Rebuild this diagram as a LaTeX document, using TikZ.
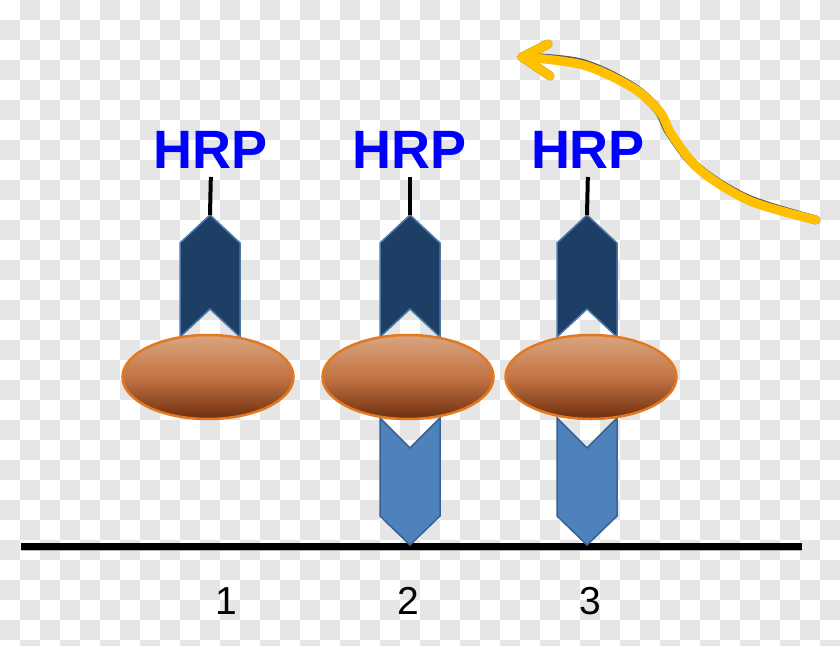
\documentclass[tikz,border=0pt]{standalone}
\usepackage{fontspec}
\setmainfont{Liberation Sans}
\usepackage{tikz}
\usetikzlibrary{shapes.geometric}
\definecolor{checkgray}{RGB}{230,230,230}
\definecolor{hrpblue}{RGB}{0,0,255}
\definecolor{darkab}{RGB}{29,62,101}
\definecolor{darkabline}{RGB}{74,120,168}
\definecolor{lightab}{RGB}{79,129,189}
\definecolor{lightabline}{RGB}{56,98,148}
\definecolor{beadtop}{RGB}{217,165,128}
\definecolor{beadmid}{RGB}{196,116,68}
\definecolor{beadbot}{RGB}{110,46,14}
\definecolor{beadline}{RGB}{226,120,32}
\definecolor{flowyellow}{RGB}{255,192,0}
\definecolor{flowshadow}{RGB}{90,90,90}

\begin{document}
\begin{tikzpicture}[x=1pt, y=-1pt,
      hrp/.style={font=\fontsize{54}{54}\selectfont\bfseries, text=hrpblue, inner sep=0pt, anchor=south},
      lane/.style={font=\fontsize{39}{39}\selectfont, inner sep=0pt},
      stem/.style={line width=4pt, shorten <=8pt},
      bead/.style={ellipse, draw=beadline, line width=2.5pt, minimum width=171pt, minimum height=84pt,
        top color=beadtop, bottom color=beadbot, middle color=beadmid, inner sep=0pt},
      upab/.style={fill=darkab, draw=darkabline, line width=1.5pt, line join=miter},
      downab/.style={fill=lightab, draw=lightabline, line width=1.5pt, line join=miter},
      flow/.style={line cap=round, line join=round}]
    \useasboundingbox (0,0) rectangle (840,645);
    % checkered background
    \fill[white] (0,0) rectangle (840,645);
    \foreach \x in {20,60,...,820}{
      \foreach \y in {0,40,...,640}{
        \fill[checkgray] (\x,\y) rectangle ++(20,20);
      }
    }
    \foreach \x in {0,40,...,800}{
      \foreach \y in {20,60,...,620}{
        \fill[checkgray] (\x,\y) rectangle ++(20,20);
      }
    }
    % surface
    \coordinate (sfL) at (21,546.5);
    \coordinate (sfR) at (802,546.5);
    \draw[line width=7pt, gray!60] ([yshift=-1pt]sfL) -- ([yshift=-1pt]sfR);
    \draw[line width=7pt, black] (sfL) -- (sfR);
    % detection antibodies (point up)
    \foreach \c/\n in {210/1, 410/2, 587/3}{
      \draw[upab] (\c-30,243) -- (\c,215) coordinate (top\n) -- (\c+30,243) -- (\c+30,337) -- (\c,309) -- (\c-30,337) -- cycle;
    }
    % capture antibodies (point down)
    \foreach \c/\n in {410/2, 587/3}{
      \draw[downab] (\c-30,418) -- (\c,448) -- (\c+30,418) -- (\c+30,516) -- (\c,545) coordinate (foot\n) -- (\c-30,516) -- cycle;
    }
    % antigens
    \node[bead] (bead1) at (208,377) {};
    \node[bead] (bead2) at (408,377) {};
    \node[bead] (bead3) at (591,377) {};
    % HRP labels
    \node[hrp] (hrp1) at (211,169) {HRP};
    \node[hrp] (hrp2) at (410,169) {HRP};
    \node[hrp] (hrp3) at (588,169) {HRP};
    \draw[stem] (hrp1.south) -- (top1);
    \draw[stem] (hrp2.south) -- (top2);
    \draw[stem] (hrp3.south) -- (top3);
    % lane numbers
    \node[lane] (lane1) at (226,601) {1};
    \node[lane] (lane2) at (408,601) {2};
    \node[lane] (lane3) at (590,601) {3};
    % flow arrow
    \coordinate (flowS) at (816,220);
    \coordinate (flowE) at (522,57);
    \coordinate (barbU) at (548,44);
    \coordinate (barbL) at (550,76);
    \begin{scope}[shift={(-2,-2)}]
      \draw[flow, flowshadow, line width=9pt] plot[smooth, tension=0.55] coordinates {(flowS) (750,201) (700,170) (672,135) (660,112) (633,88) (583,65) (flowE)};
      \draw[flow, flowshadow, line width=9pt] (barbU) -- (flowE) -- (barbL);
    \end{scope}
    \draw[flow, flowyellow, line width=9pt] plot[smooth, tension=0.55] coordinates {(flowS) (750,201) (700,170) (672,135) (660,112) (633,88) (583,65) (flowE)};
    \draw[flow, flowyellow, line width=9pt] (barbU) -- (flowE) -- (barbL);
  \end{tikzpicture}
\end{document}
